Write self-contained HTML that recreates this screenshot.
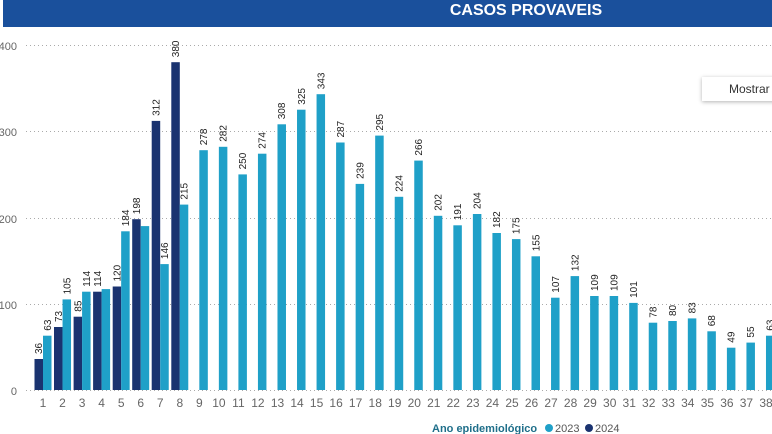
<!DOCTYPE html>
<html><head><meta charset="utf-8"><style>
html,body{margin:0;padding:0;background:#fff;width:772px;height:434px;overflow:hidden;font-family:"Liberation Sans",sans-serif}
.btn{position:absolute;left:702px;top:77px;width:80px;height:24px;background:#fff;box-shadow:0 1px 4px rgba(0,0,0,.3);font-size:12px;color:#333;line-height:24px;padding-left:27px;box-sizing:border-box}
</style></head><body>
<svg width="772" height="434" style="position:absolute;left:0;top:0" font-family="Liberation Sans, sans-serif">
<rect x="3" y="0" width="769" height="27" fill="#1a509c"/>
<text x="526" y="15" fill="#fff" font-size="16" font-weight="bold" text-anchor="middle">CASOS PROVAVEIS</text>
<g stroke="#aaa" stroke-dasharray="1,3" stroke-width="1">
<line x1="26" y1="45.5" x2="772" y2="45.5"/><line x1="26" y1="131.5" x2="772" y2="131.5"/><line x1="26" y1="218.5" x2="772" y2="218.5"/><line x1="26" y1="304.5" x2="772" y2="304.5"/><line x1="26" y1="390.5" x2="772" y2="390.5"/>
</g>
<g fill="#666" font-size="11" text-anchor="end">
<text x="17" y="50">400</text><text x="17" y="136">300</text><text x="17" y="223">200</text><text x="17" y="309">100</text><text x="17" y="395">0</text>
</g>
<g fill="#1a3370">
<rect x="34.5" y="359" width="8.5" height="31"/><rect x="54" y="327" width="8.5" height="63"/><rect x="73.6" y="316.7" width="8.5" height="73.3"/><rect x="93.1" y="291.7" width="8.5" height="98.3"/><rect x="112.7" y="286.5" width="8.5" height="103.5"/><rect x="132.2" y="219.2" width="8.5" height="170.8"/><rect x="151.7" y="120.9" width="8.5" height="269.1"/><rect x="171.3" y="62.2" width="8.5" height="327.8"/>
</g>
<g fill="#1fa0c8">
<rect x="43" y="335.7" width="8.5" height="54.3"/><rect x="62.54" y="299.4" width="8.5" height="90.6"/><rect x="82.08" y="291.7" width="8.5" height="98.3"/><rect x="101.62" y="289.1" width="8.5" height="100.9"/><rect x="121.16" y="231.3" width="8.5" height="158.7"/><rect x="140.7" y="226.1" width="8.5" height="163.9"/><rect x="160.24" y="264.1" width="8.5" height="125.9"/><rect x="179.78" y="204.6" width="8.5" height="185.4"/><rect x="199.32" y="150.2" width="8.5" height="239.8"/><rect x="218.86" y="146.8" width="8.5" height="243.2"/><rect x="238.4" y="174.4" width="8.5" height="215.6"/><rect x="257.94" y="153.7" width="8.5" height="236.3"/><rect x="277.48" y="124.3" width="8.5" height="265.7"/><rect x="297.02" y="109.7" width="8.5" height="280.3"/><rect x="316.56" y="94.2" width="8.5" height="295.8"/><rect x="336.1" y="142.5" width="8.5" height="247.5"/><rect x="355.64" y="183.9" width="8.5" height="206.1"/><rect x="375.18" y="135.6" width="8.5" height="254.4"/><rect x="394.72" y="196.8" width="8.5" height="193.2"/><rect x="414.26" y="160.6" width="8.5" height="229.4"/><rect x="433.8" y="215.8" width="8.5" height="174.2"/><rect x="453.34" y="225.3" width="8.5" height="164.7"/><rect x="472.88" y="214" width="8.5" height="176"/><rect x="492.42" y="233" width="8.5" height="157"/><rect x="511.96" y="239.1" width="8.5" height="150.9"/><rect x="531.5" y="256.3" width="8.5" height="133.7"/><rect x="551.04" y="297.7" width="8.5" height="92.3"/><rect x="570.58" y="276.1" width="8.5" height="113.9"/><rect x="590.12" y="296" width="8.5" height="94"/><rect x="609.66" y="296" width="8.5" height="94"/><rect x="629.2" y="302.9" width="8.5" height="87.1"/><rect x="648.74" y="322.7" width="8.5" height="67.3"/><rect x="668.28" y="321" width="8.5" height="69"/><rect x="687.82" y="318.4" width="8.5" height="71.6"/><rect x="707.36" y="331.3" width="8.5" height="58.7"/><rect x="726.9" y="347.7" width="8.5" height="42.3"/><rect x="746.44" y="342.6" width="8.5" height="47.4"/><rect x="765.98" y="335.7" width="8.5" height="54.3"/>
</g>
<g fill="#222" font-size="10">
<text transform="translate(42.2,354) rotate(-90)">36</text>
<text transform="translate(61.8,322) rotate(-90)">73</text>
<text transform="translate(81.3,311.7) rotate(-90)">85</text>
<text transform="translate(100.9,286.7) rotate(-90)">114</text>
<text transform="translate(120.4,281.5) rotate(-90)">120</text>
<text transform="translate(140,214.2) rotate(-90)">198</text>
<text transform="translate(159.5,115.9) rotate(-90)">312</text>
<text transform="translate(179,57.2) rotate(-90)">380</text>
<text transform="translate(50.8,330.7) rotate(-90)">63</text>
<text transform="translate(70.3,294.4) rotate(-90)">105</text>
<text transform="translate(89.8,286.7) rotate(-90)">114</text>
<text transform="translate(128.9,226.3) rotate(-90)">184</text>
<text transform="translate(168,259.1) rotate(-90)">146</text>
<text transform="translate(187.5,199.6) rotate(-90)">215</text>
<text transform="translate(207.1,145.2) rotate(-90)">278</text>
<text transform="translate(226.6,141.8) rotate(-90)">282</text>
<text transform="translate(246.2,169.4) rotate(-90)">250</text>
<text transform="translate(265.7,148.7) rotate(-90)">274</text>
<text transform="translate(285.2,119.3) rotate(-90)">308</text>
<text transform="translate(304.8,104.7) rotate(-90)">325</text>
<text transform="translate(324.3,89.2) rotate(-90)">343</text>
<text transform="translate(343.9,137.5) rotate(-90)">287</text>
<text transform="translate(363.4,178.9) rotate(-90)">239</text>
<text transform="translate(382.9,130.6) rotate(-90)">295</text>
<text transform="translate(402.5,191.8) rotate(-90)">224</text>
<text transform="translate(422,155.6) rotate(-90)">266</text>
<text transform="translate(441.6,210.8) rotate(-90)">202</text>
<text transform="translate(461.1,220.3) rotate(-90)">191</text>
<text transform="translate(480.6,209) rotate(-90)">204</text>
<text transform="translate(500.2,228) rotate(-90)">182</text>
<text transform="translate(519.7,234.1) rotate(-90)">175</text>
<text transform="translate(539.3,251.3) rotate(-90)">155</text>
<text transform="translate(558.8,292.7) rotate(-90)">107</text>
<text transform="translate(578.3,271.1) rotate(-90)">132</text>
<text transform="translate(597.9,291) rotate(-90)">109</text>
<text transform="translate(617.4,291) rotate(-90)">109</text>
<text transform="translate(637,297.9) rotate(-90)">101</text>
<text transform="translate(656.5,317.7) rotate(-90)">78</text>
<text transform="translate(676,316) rotate(-90)">80</text>
<text transform="translate(695.6,313.4) rotate(-90)">83</text>
<text transform="translate(715.1,326.3) rotate(-90)">68</text>
<text transform="translate(734.7,342.7) rotate(-90)">49</text>
<text transform="translate(754.2,337.6) rotate(-90)">55</text>
<text transform="translate(773.7,330.7) rotate(-90)">63</text>
</g>
<g fill="#666" font-size="12" text-anchor="middle">
<text x="43" y="407">1</text><text x="62.5" y="407">2</text><text x="82.1" y="407">3</text><text x="101.6" y="407">4</text><text x="121.2" y="407">5</text><text x="140.7" y="407">6</text><text x="160.2" y="407">7</text><text x="179.8" y="407">8</text><text x="199.3" y="407">9</text><text x="218.9" y="407">10</text><text x="238.4" y="407">11</text><text x="257.9" y="407">12</text><text x="277.5" y="407">13</text><text x="297" y="407">14</text><text x="316.6" y="407">15</text><text x="336.1" y="407">16</text><text x="355.6" y="407">17</text><text x="375.2" y="407">18</text><text x="394.7" y="407">19</text><text x="414.3" y="407">20</text><text x="433.8" y="407">21</text><text x="453.3" y="407">22</text><text x="472.9" y="407">23</text><text x="492.4" y="407">24</text><text x="512" y="407">25</text><text x="531.5" y="407">26</text><text x="551" y="407">27</text><text x="570.6" y="407">28</text><text x="590.1" y="407">29</text><text x="609.7" y="407">30</text><text x="629.2" y="407">31</text><text x="648.7" y="407">32</text><text x="668.3" y="407">33</text><text x="687.8" y="407">34</text><text x="707.4" y="407">35</text><text x="726.9" y="407">36</text><text x="746.4" y="407">37</text><text x="766" y="407">38</text>
</g>
<text x="432" y="432" fill="#1f6f8a" font-size="11" font-weight="bold">Ano epidemiológico</text>
<circle cx="549" cy="428" r="4" fill="#1fa0c8"/>
<text x="555" y="432" fill="#555" font-size="11">2023</text>
<circle cx="589" cy="428" r="4" fill="#1a3370"/>
<text x="595" y="432" fill="#555" font-size="11">2024</text>
</svg>
<div class="btn">Mostrar</div>
</body></html>
